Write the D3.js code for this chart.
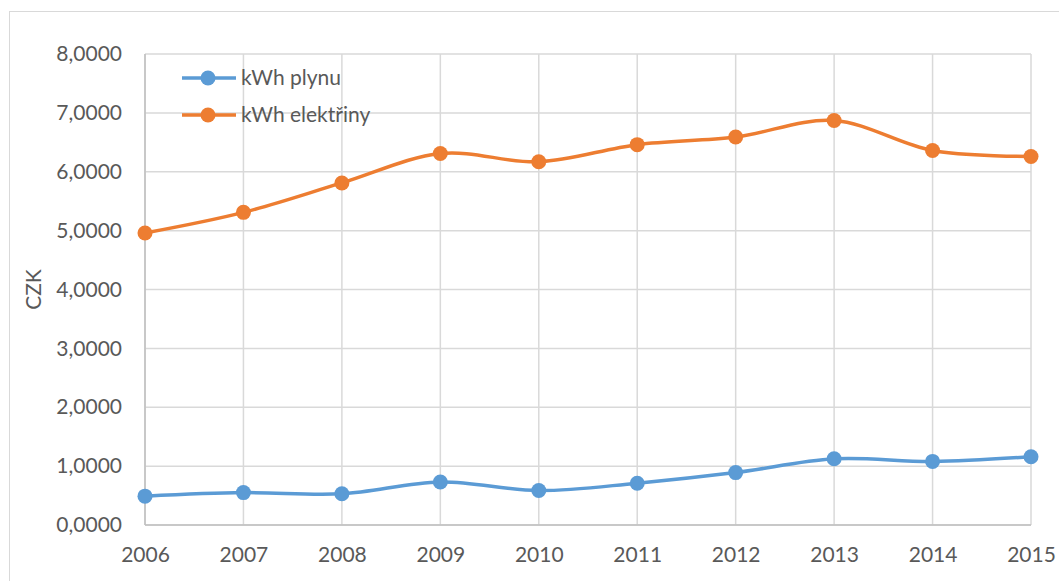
<!DOCTYPE html>
<html><head><meta charset="utf-8">
<script src="https://cdn.jsdelivr.net/npm/d3@7/dist/d3.min.js"></script>
<style>body{margin:0;background:#fff}svg{display:block}</style>
</head><body>
<svg id="c" width="1059" height="581"></svg>
<script>
const years = [2006,2007,2008,2009,2010,2011,2012,2013,2014,2015];
const gasValues = [0.49,0.55,0.53,0.73,0.585,0.71,0.89,1.125,1.08,1.16];
const elecValues = [4.96,5.31,5.81,6.31,6.17,6.46,6.59,6.87,6.36,6.26];
const seriesNames = ["kWh plynu","kWh elektřiny"];
const seriesColors = ["#5B9BD5","#ED7D31"];
const yTicks = [0,1,2,3,4,5,6,7,8];
const yTitle = "CZK";

(function(){
const svg = d3.select("#c");
const font = "Lato, 'Open Sans', sans-serif";
const pL=145, pR=1031, pT=54, pB=525;
const x = d3.scalePoint().domain(years).range([pL,pR]);
const y = d3.scaleLinear().domain([0,8]).range([pB,pT]);

svg.append("rect").attr("x",9.5).attr("y",11.5).attr("width",1100).attr("height",1000)
  .attr("fill","#fff").attr("stroke","#D9D9D9").attr("stroke-width",1);

svg.append("g").selectAll("line").data(yTicks).join("line")
  .attr("x1",pL).attr("x2",pR).attr("y1",d=>y(d)).attr("y2",d=>y(d))
  .attr("stroke","#D9D9D9").attr("stroke-width",1.5);
svg.append("g").selectAll("line").data(years).join("line")
  .attr("x1",d=>x(d)).attr("x2",d=>x(d)).attr("y1",pT).attr("y2",pB)
  .attr("stroke","#D9D9D9").attr("stroke-width",1.5);
svg.append("line").attr("x1",pL).attr("x2",pR).attr("y1",pB).attr("y2",pB).attr("stroke","#BFBFBF").attr("stroke-width",1.5);
svg.append("line").attr("x1",pL).attr("x2",pL).attr("y1",pT).attr("y2",pB).attr("stroke","#BFBFBF").attr("stroke-width",1.5);

const yAxis = d3.axisLeft(y).tickValues(yTicks).tickSize(0).tickPadding(23)
  .tickFormat(d=>d3.format(".4f")(d).replace(".",","));
const ga = svg.append("g").attr("transform",`translate(${pL},0)`).call(yAxis);
ga.select(".domain").remove();
ga.selectAll("text").attr("font-family",font).attr("font-size",21).attr("fill","#595959");

const xAxis = d3.axisBottom(x).tickSize(0).tickPadding(22).tickFormat(d=>String(d));
const gx = svg.append("g").attr("transform",`translate(0,${pB})`).call(xAxis);
gx.select(".domain").remove();
gx.selectAll("text").attr("font-family",font).attr("font-size",21).attr("fill","#595959");

svg.append("text").attr("transform",`translate(41,${(pT+pB)/2}) rotate(-90)`)
  .attr("text-anchor","middle").attr("font-family",font).attr("font-size",21).attr("fill","#595959").text(yTitle);

const line = d3.line().x((d,i)=>x(years[i])).y(d=>y(d)).curve(d3.curveCardinal.tension(0));
[gasValues, elecValues].forEach((vals,k)=>{
  svg.append("path").attr("d",line(vals)).attr("fill","none").attr("stroke",seriesColors[k]).attr("stroke-width",3.5);
  svg.append("g").selectAll("circle").data(vals).join("circle")
    .attr("cx",(d,i)=>x(years[i])).attr("cy",d=>y(d)).attr("r",7.5).attr("fill",seriesColors[k]);
});

const lg = svg.append("g");
seriesNames.forEach((n,k)=>{
  const ly = 78 + k*37;
  lg.append("line").attr("x1",182).attr("x2",236).attr("y1",ly).attr("y2",ly).attr("stroke",seriesColors[k]).attr("stroke-width",3.5);
  lg.append("circle").attr("cx",208).attr("cy",ly).attr("r",7.5).attr("fill",seriesColors[k]);
  lg.append("text").attr("x",241).attr("y",ly).attr("dy","0.35em").attr("font-family",font).attr("font-size",21).attr("fill","#595959").text(n);
});
})();
</script>
</body></html>
